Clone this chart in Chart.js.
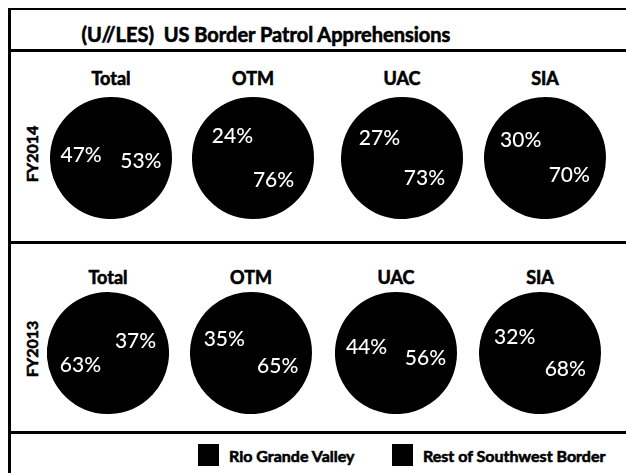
<!DOCTYPE html>
<html>
<head>
<meta charset="utf-8">
<script src="https://cdn.jsdelivr.net/npm/chart.js@4"></script>
<style>
  body { margin: 0; background: #fff; width: 626px; height: 473px; position: relative; overflow: hidden; font-family: Lato, "Open Sans", sans-serif; }
  .rule { position: absolute; background: #000; }
  .lbl { position: absolute; transform: translate(-50%, -50%); white-space: nowrap; font-weight: bold; color: #000; -webkit-text-stroke: 0.6px #000; }
  .year { position: absolute; transform: translate(-50%, -50%) rotate(-90deg); font-weight: bold; font-size: 16px; white-space: nowrap; -webkit-text-stroke: 0.6px #000; }
  canvas { position: absolute; }
  .key { position: absolute; width: 21px; height: 22px; background: #000; }
</style>
</head>
<body>
<div class="rule" style="left:8px;top:8px;width:3px;height:465px"></div>
<div class="rule" style="left:8px;top:8px;width:618px;height:2px"></div>
<div class="rule" style="left:8px;top:49px;width:618px;height:3px"></div>
<div class="rule" style="left:8px;top:241px;width:618px;height:3px"></div>
<div class="rule" style="left:8px;top:431px;width:618px;height:3px"></div>
<div id="title" class="lbl" style="left:266px;top:34px;font-size:20px">(U//LES)&nbsp; US Border Patrol Apprehensions</div>
<div id="stage"></div>

<script>
const panels = ['Total', 'OTM', 'UAC', 'SIA'];
const years = ['FY2014', 'FY2013'];
const seriesNames = ['Rio Grande Valley', 'Rest of Southwest Border'];

// percent of apprehensions, per panel
const rgvFY2014 = [53, 76, 73, 70];
const restFY2014 = [47, 24, 27, 30];
const rgvFY2013 = [37, 65, 56, 68];
const restFY2013 = [63, 35, 44, 32];

const rows = [
  { year: years[0], rgv: rgvFY2014, rest: restFY2014, y: 158, titleY: 78, xs: [111, 253, 402, 545] },
  { year: years[1], rgv: rgvFY2013, rest: restFY2013, y: 353, titleY: 277, xs: [108, 251, 396, 540] }
];

const SIZE = 122;
const stage = document.getElementById('stage');

const pctLabels = {
  id: 'pctLabels',
  afterDatasetsDraw(chart) {
    const ctx = chart.ctx;
    const ds = chart.data.datasets[0];
    ctx.save();
    ctx.fillStyle = '#fff';
    ctx.font = '500 21px Lato, sans-serif';
    ctx.textAlign = 'center';
    ctx.textBaseline = 'middle';
    chart.getDatasetMeta(0).data.forEach((arc, i) => {
      const p = arc.tooltipPosition();
      ctx.fillText(ds.data[i] + '%', p.x, p.y);
    });
    ctx.restore();
  }
};

function addText(cls, text, x, y, size) {
  const d = document.createElement('div');
  d.className = cls;
  d.textContent = text;
  d.style.left = x + 'px';
  d.style.top = y + 'px';
  if (size) d.style.fontSize = size + 'px';
  stage.appendChild(d);
  return d;
}

rows.forEach(row => {
  addText('year', row.year, 31, row.y - 4);
  panels.forEach((name, i) => {
    addText('lbl', name, row.xs[i], row.titleY, 18);
    const c = document.createElement('canvas');
    c.width = SIZE;
    c.height = SIZE;
    c.style.left = (row.xs[i] - SIZE / 2) + 'px';
    c.style.top = (row.y - SIZE / 2) + 'px';
    stage.appendChild(c);
    new Chart(c, {
      type: 'pie',
      data: {
        labels: seriesNames,
        datasets: [{
          data: [row.rgv[i], row.rest[i]],
          backgroundColor: ['#000', '#000'],
          borderColor: '#000',
          borderWidth: 2
        }]
      },
      options: {
        responsive: false,
        animation: false,
        layout: { padding: 0 },
        plugins: { legend: { display: false }, tooltip: { enabled: false } }
      },
      plugins: [pctLabels]
    });
  });
});

// legend
const keyX = [198, 392];
seriesNames.forEach((name, i) => {
  const k = document.createElement('div');
  k.className = 'key';
  k.style.left = keyX[i] + 'px';
  k.style.top = '444px';
  stage.appendChild(k);
  const t = addText('lbl', name, keyX[i] + 31, 455, 16);
  t.style.transform = 'translate(0, -50%)';
});
</script>
</body>
</html>
